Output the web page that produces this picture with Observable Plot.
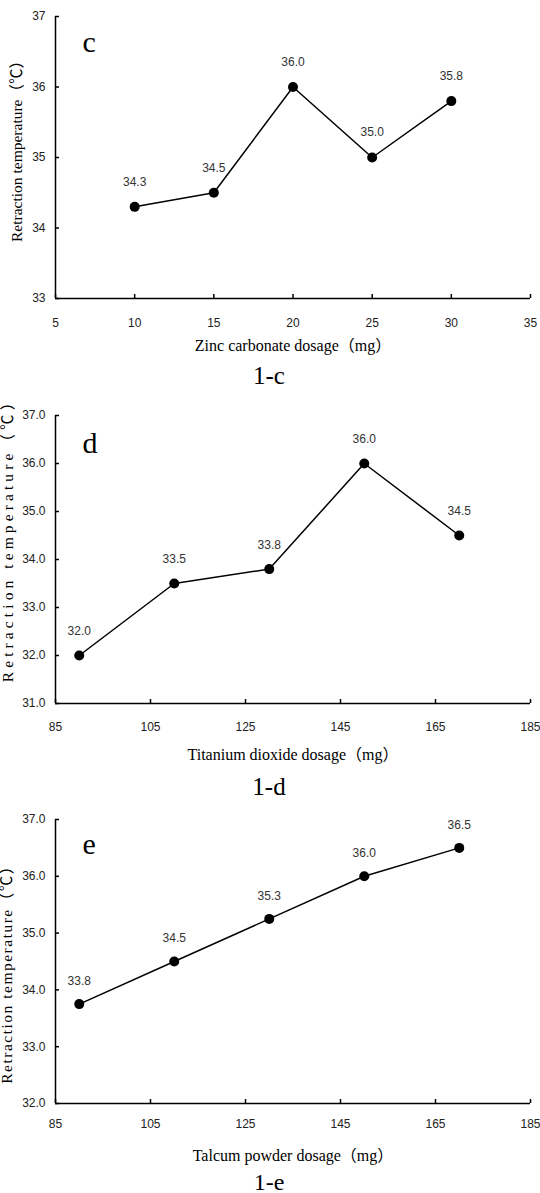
<!DOCTYPE html>
<html><head><meta charset="utf-8">
<script src="https://cdn.jsdelivr.net/npm/d3@7"></script>
<script src="https://cdn.jsdelivr.net/npm/@observablehq/plot@0.6"></script>
<style>
body{margin:0;background:#fff;width:540px;height:1193px;overflow:hidden;position:relative}
.panel{position:absolute;left:0}
</style></head><body>
<div id="pc" class="panel" style="top:0px"></div>
<div id="pd" class="panel" style="top:392px"></div>
<div id="pe" class="panel" style="top:797px"></div>
<script>
const yTitle = "Retraction temperature（℃）";

// Panel c
const cDosage = [10, 15, 20, 25, 30];
const cTemp = [34.3, 34.5, 36.0, 35.0, 35.8];
const cXTicks = [5, 10, 15, 20, 25, 30, 35];
const cYTicks = [33, 34, 35, 36, 37];

// Panel d
const dDosage = [90, 110, 130, 150, 170];
const dTemp = [32.0, 33.5, 33.8, 36.0, 34.5];
const dXTicks = [85, 105, 125, 145, 165, 185];
const dYTicks = [31, 32, 33, 34, 35, 36, 37];

// Panel e
const eDosage = [90, 110, 130, 150, 170];
const eTemp = [33.75, 34.5, 35.25, 36.0, 36.5];
const eLabels = ["33.8", "34.5", "35.3", "36.0", "36.5"];
const eXTicks = [85, 105, 125, 145, 165, 185];
const eYTicks = [32, 33, 34, 35, 36, 37];

const SANS = "'Liberation Sans', Arial, sans-serif";
const SERIF = "'Liberation Serif', 'Times New Roman', 'Noto Sans CJK SC', serif";

function panel(o) {
  const data = o.xs.map((x, i) => ({x, y: o.ys[i], label: o.labels[i]}));
  const xd = [o.xTicks[0], o.xTicks[o.xTicks.length - 1]];
  const yd = [o.yTicks[0], o.yTicks[o.yTicks.length - 1]];
  const svg = Plot.plot({
    width: 540, height: o.height,
    marginTop: o.mt, marginBottom: o.mb, marginLeft: 55, marginRight: 10,
    x: {domain: xd}, y: {domain: yd},
    style: {background: "transparent", overflow: "visible"},
    marks: [
      Plot.axisX({ticks: o.xTicks, tickSize: -4, tickPadding: o.xPad, strokeWidth: 1.5,
        tickFormat: d => String(d), fontSize: 12, fontFamily: SANS, fill: "#222", label: null}),
      Plot.axisY({ticks: o.yTicks, tickSize: -4, tickPadding: 14, strokeWidth: 1.5,
        tickFormat: o.yFmt, fontSize: 12, fontFamily: SANS, fill: "#222", label: null}),
      Plot.ruleX([xd[0]], {stroke: "#000", strokeWidth: 1.5}),
      Plot.ruleY([yd[0]], {stroke: "#000", strokeWidth: 1.5}),
      Plot.line(data, {x: "x", y: "y", stroke: "#000", strokeWidth: 1.5}),
      Plot.dot(data, {x: "x", y: "y", r: 5, fill: "#000"}),
      Plot.text(data, {x: "x", y: "y", text: "label", dy: o.valDy, fontSize: 12, fontFamily: SANS, fill: "#333", lineAnchor: "middle"}),
      Plot.text([o.letter], {frameAnchor: "top-left", dx: 27, dy: o.letterDy, textAnchor: "start", lineAnchor: "middle", fontSize: 30, fontFamily: SERIF, fill: "#000"}),
      Plot.text([o.xTitle], {frameAnchor: "bottom", dy: o.titleDy, textAnchor: "middle", lineAnchor: "middle", fontSize: 16, fontFamily: SERIF, fill: "#000"}),
      Plot.text([o.caption], {frameAnchor: "bottom", dx: -24, dy: o.captionDy, textAnchor: "middle", lineAnchor: "middle", fontSize: o.capSize, fontFamily: SERIF, fill: "#000"}),
      Plot.text([yTitle], {frameAnchor: "left", dx: o.ytDx, dy: o.ytDy, rotate: -90, textAnchor: "middle", lineAnchor: "middle", fontSize: 15.5, fontFamily: SERIF, fill: "#000"})
    ]
  });
  svg.querySelectorAll("text").forEach(t => {
    if (t.textContent === yTitle) {
      t.setAttribute("letter-spacing", o.ytSpacing);
      t.style.letterSpacing = o.ytSpacing + "px";
    }
  });
  document.getElementById(o.el).appendChild(svg);
}

panel({el: "pc", height: 392, mt: 16, mb: 94, xs: cDosage, ys: cTemp, labels: cTemp.map(v => v.toFixed(1)),
  xTicks: cXTicks, yTicks: cYTicks, yFmt: d => String(d), xPad: 24, valDy: -25,
  letter: "c", letterDy: 26, xTitle: "Zinc carbonate dosage（mg）", titleDy: 47, caption: "1-c", captionDy: 77, capSize: 25,
  ytDx: -38, ytDy: -10, ytSpacing: 0});

panel({el: "pd", height: 405, mt: 23, mb: 94, xs: dDosage, ys: dTemp, labels: dTemp.map(v => v.toFixed(1)),
  xTicks: dXTicks, yTicks: dYTicks, yFmt: d => d.toFixed(1), xPad: 23, valDy: -24,
  letter: "d", letterDy: 28, xTitle: "Titanium dioxide dosage（mg）", titleDy: 51, caption: "1-d", captionDy: 83, capSize: 25,
  ytDx: -47, ytDy: -23, ytSpacing: 4.1});

panel({el: "pe", height: 396, mt: 22, mb: 90, xs: eDosage, ys: eTemp, labels: eLabels,
  xTicks: eXTicks, yTicks: eYTicks, yFmt: d => d.toFixed(1), xPad: 20, valDy: -23,
  letter: "e", letterDy: 25, xTitle: "Talcum powder dosage（mg）", titleDy: 52, caption: "1-e", captionDy: 79, capSize: 24,
  ytDx: -48, ytDy: 9, ytSpacing: 1.5});
</script>
</body></html>
